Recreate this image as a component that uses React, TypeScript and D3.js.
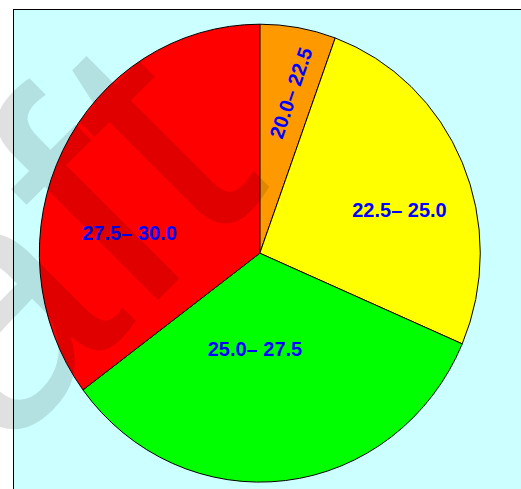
import React from "react";
import * as d3 from "d3";

const categories = ["20.0– 22.5", "22.5– 25.0", "25.0– 27.5", "27.5– 30.0"];
const counts = [3, 14, 18, 19];
const colors = ["#ff9900", "#ffff00", "#00ff00", "#ff0000"];

// label layout (angle in degrees clockwise from top, radius as fraction)
const labelAngle = [11.4, 73.4, 183, 278.5];
const labelRadius = [0.714, 0.661, 0.419, 0.5975];
const labelRotate = [-71, 0, 0, 0];

const W = 521;
const H = 489;
const cx = 259.8;
const cy = 253.2;
const rx = 220.5;
const ry = 229;

export default function App() {
  const pie = d3
    .pie<number>()
    .sort(null)
    .value((d) => d)
    .startAngle(0)
    .endAngle(2 * Math.PI);
  const arcs = pie(counts);
  const arc = d3.arc<d3.PieArcDatum<number>>().innerRadius(0).outerRadius(1);

  return (
    <svg
      width={W}
      height={H}
      style={{ position: "absolute", left: 0, top: 0 }}
      fontFamily="Liberation Sans, Arial, sans-serif"
    >
      <rect x={0} y={0} width={W} height={H} fill="#ffffff" />
      <rect x={13.5} y={9.5} width={W + 20} height={H + 20} fill="#ccffff" stroke="#000" strokeWidth={1} />
      <g transform={`translate(${cx},${cy}) scale(${rx},${ry})`}>
        {arcs.map((a, i) => (
          <path
            key={i}
            d={arc(a) || ""}
            fill={colors[i]}
            stroke="#000"
            strokeWidth={1}
            vectorEffect="non-scaling-stroke"
          />
        ))}
      </g>
      {categories.map((c, i) => {
        const t = (labelAngle[i] * Math.PI) / 180;
        const x = cx + Math.sin(t) * labelRadius[i] * rx;
        const y = cy - Math.cos(t) * labelRadius[i] * ry;
        return (
          <text
            key={c}
            transform={`translate(${x},${y}) rotate(${labelRotate[i]})`}
            textAnchor="middle"
            dominantBaseline="central"
            fontSize={20}
            fontWeight="bold"
            fill="#0000ff"
          >
            {c}
          </text>
        );
      })}
      <text
        transform="translate(272,186) rotate(-45)"
        textAnchor="end"
        fontSize={345}
        fill="#000"
        fillOpacity={0.12}
      >
        Draft
      </text>
    </svg>
  );
}
